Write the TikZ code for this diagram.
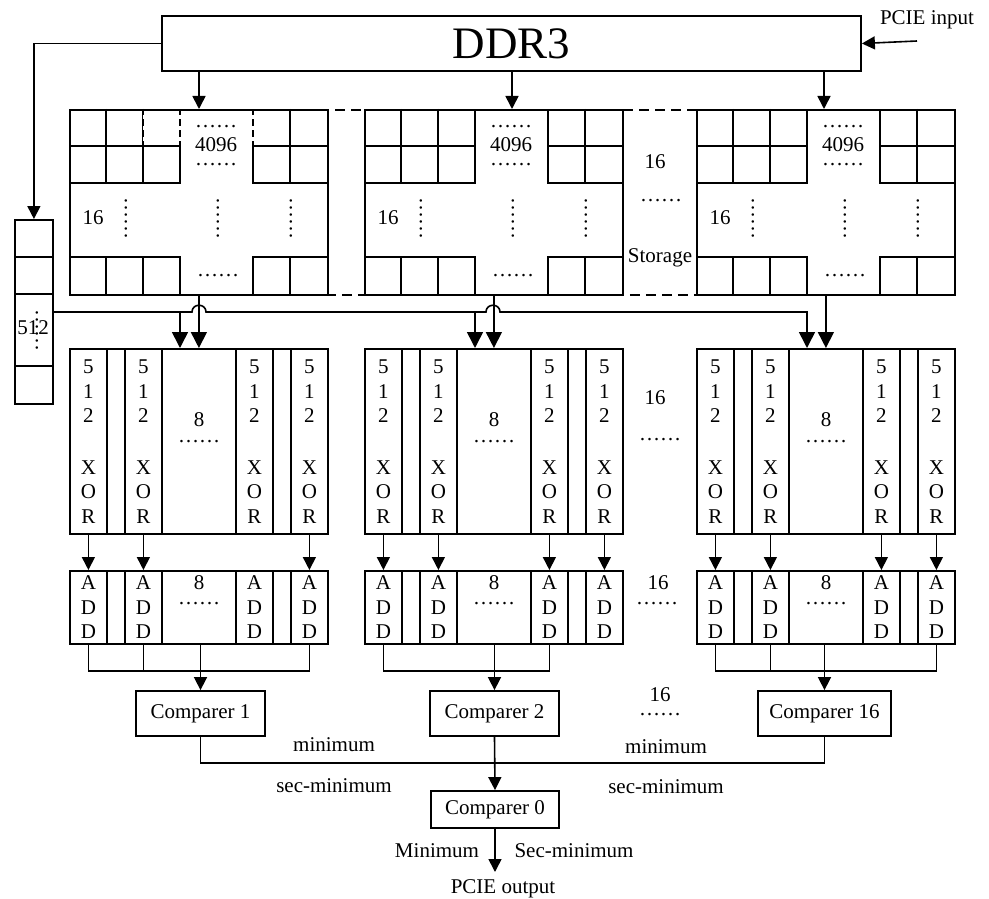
\documentclass[tikz,border=0pt]{standalone}
\usepackage{fontspec}
\setmainfont{Liberation Serif}
\usetikzlibrary{arrows.meta}
\begin{document}
\begin{tikzpicture}[x=1pt,y=-1pt,
  every node/.style={font=\fontsize{21}{24.5}\selectfont, inner sep=0pt},
  box/.style={draw, line width=1.8pt, inner sep=0pt},
  cl/.style={line width=1.8pt},
  ln/.style={line width=1.6pt},
  arr/.style={ln, -{Triangle[width=13pt,length=13pt]}},
  bigarr/.style={ln, -{Triangle[width=16pt,length=16pt]}},
  vdots/.style={rotate=90},
]
\useasboundingbox (0,0) rectangle (989,899);

% DDR3 and input
\node[box, minimum width=699pt, minimum height=55pt, font=\fontsize{45}{50}\selectfont] (ddr) at (511.5,43.5) {DDR3};
\node (pin) at (927,20) {PCIE input};
\coordinate (pinS) at (917,41);
\draw[arr] (pinS) -- (ddr.east);

% left column
\node[box, minimum width=38pt, minimum height=184pt, anchor=north west] (col) at (14,219) {};
\draw[cl] (14,257) -- (52,257);
\draw[cl] (14,294) -- (52,294);
\draw[cl] (14,366) -- (52,366);
\node (n512) at (33,328) {512};
\node[vdots] (v512) at (37,330) {……};
\draw[arr] (ddr.west) -| (col.north);

% storage frame
\node[draw, line width=1.6pt, dash pattern=on 10pt off 6pt, minimum width=885pt, minimum height=185pt, anchor=north west] (frame) at (69,109) {};

% storage blocks
\foreach \i/\L in {1/69,2/364,3/696}{
  \node[box, minimum width=258pt, minimum height=185pt, anchor=north west] (s\i) at (\L,109) {};
  \draw[cl] (\L,183) -- (\L+111,183) -- (\L+111,109);
  \draw[cl] (\L,146) -- (\L+111,146);
  \draw[cl] (\L+37,109) -- (\L+37,183);
  \draw[cl] (\L+74,109) -- (\L+74,183);
  \draw[cl] (\L+258,183) -- (\L+184,183) -- (\L+184,109);
  \draw[cl] (\L+184,146) -- (\L+258,146);
  \draw[cl] (\L+221,109) -- (\L+221,183);
  \draw[cl] (\L,257) -- (\L+111,257) -- (\L+111,294);
  \draw[cl] (\L+37,257) -- (\L+37,294);
  \draw[cl] (\L+74,257) -- (\L+74,294);
  \draw[cl] (\L+258,257) -- (\L+184,257) -- (\L+184,294);
  \draw[cl] (\L+221,257) -- (\L+221,294);
  \node (sdt\i) at (\L+147,127) {……};
  \node (sn\i) at (\L+147,145) {4096};
  \node (sdb\i) at (\L+147,165) {……};
  \node (s16\i) at (\L+24,218) {16};
  \node[vdots] (sv1\i) at (\L+57,218) {……};
  \node[vdots] (sv2\i) at (\L+149,218) {……};
  \node[vdots] (sv3\i) at (\L+222,218) {……};
  \node (sbd\i) at (\L+149,276) {……};
}
% broken (dashed-looking) lines in block 1 top row
\foreach \xx in {144,180,253}{
  \draw[white, line width=2.4pt, dash pattern=on 4pt off 7pt] (\xx,115) -- (\xx,143);
}

\node (st16) at (655,162) {16};
\node (stdots) at (661,201) {……};
\node (stlab) at (660,258) {Storage};

% DDR3 -> storage
\coordinate (d1) at (199,71);
\coordinate (d2) at (512,71);
\coordinate (d3) at (824,71);
\draw[arr] (d1) -- (d1 |- s1.north);
\draw[arr] (d2) -- (d2 |- s2.north);
\draw[arr] (d3) -- (d3 |- s3.north);

% XOR units
\foreach \i/\L in {1/69,2/364,3/696}{
  \node[box, minimum width=258pt, minimum height=185pt, anchor=north west] (xor\i) at (\L,348) {};
  \node[box, minimum width=37pt, minimum height=185pt, anchor=north west, align=center] (xa\i) at (\L,348) {5\\1\\2\\[27pt]X\\O\\R};
  \node[box, minimum width=37pt, minimum height=185pt, anchor=north west, align=center] (xb\i) at (\L+55,348) {5\\1\\2\\[27pt]X\\O\\R};
  \node[box, minimum width=37pt, minimum height=185pt, anchor=north west, align=center] (xc\i) at (\L+166,348) {5\\1\\2\\[27pt]X\\O\\R};
  \node[box, minimum width=37pt, minimum height=185pt, anchor=north west, align=center] (xd\i) at (\L+221,348) {5\\1\\2\\[27pt]X\\O\\R};
  \node (x8\i) at (\L+130,420) {8};
  \node (xdots\i) at (\L+130,442) {……};
}
\node (x16) at (655,398) {16};
\node (x16d) at (660,440) {……};

% storage -> XOR
\coordinate (h0) at (52,312);
\coordinate (b1) at (180,312);
\coordinate (b2) at (475,312);
\coordinate (b3) at (807,312);
\draw[bigarr] (h0) -- (192,312) .. controls (192,303) and (206,303) .. (206,312)
  -- (486,312) .. controls (486,303) and (500,303) .. (500,312) -- (b3) -- (b3 |- xor3.north);
\draw[bigarr] (b1) -- (b1 |- xor1.north);
\draw[bigarr] (b2) -- (b2 |- xor2.north);
\draw[bigarr] (s1.south) -- (s1.south |- xor1.north);
\draw[bigarr] (s2.south) -- (s2.south |- xor2.north);
\draw[bigarr] (s3.south) -- (s3.south |- xor3.north);

% ADD units
\foreach \i/\L in {1/69,2/364,3/696}{
  \node[box, minimum width=258pt, minimum height=73pt, anchor=north west] (add\i) at (\L,570) {};
  \node[box, minimum width=37pt, minimum height=73pt, anchor=north west, align=center] (pa\i) at (\L,570) {A\\D\\D};
  \node[box, minimum width=37pt, minimum height=73pt, anchor=north west, align=center] (pb\i) at (\L+55,570) {A\\D\\D};
  \node[box, minimum width=37pt, minimum height=73pt, anchor=north west, align=center] (pc\i) at (\L+166,570) {A\\D\\D};
  \node[box, minimum width=37pt, minimum height=73pt, anchor=north west, align=center] (pd\i) at (\L+221,570) {A\\D\\D};
  \node (p8\i) at (\L+130,583) {8};
  \node (pdots\i) at (\L+130,604) {……};
}
\node (p16) at (658,583) {16};
\node (p16d) at (657,604) {……};

% XOR -> ADD
\draw[arr] (xa1.south) -- (pa1.north);
\draw[arr] (xb1.south) -- (pb1.north);
\draw[arr] (xd1.south) -- (pd1.north);
\foreach \i in {2,3}{
  \draw[arr] (xa\i.south) -- (pa\i.north);
  \draw[arr] (xb\i.south) -- (pb\i.north);
  \draw[arr] (xc\i.south) -- (pc\i.north);
  \draw[arr] (xd\i.south) -- (pd\i.north);
}

% comparers
\node[box, minimum width=129pt, minimum height=45pt] (c1) at (200.5,713.5) {Comparer 1};
\node[box, minimum width=129pt, minimum height=45pt] (c2) at (494.5,713.5) {Comparer 2};
\node[box, minimum width=133pt, minimum height=45pt] (c16) at (824.5,713.5) {Comparer 16};
\node[box, minimum width=128pt, minimum height=37pt] (c0) at (495,809.5) {Comparer 0};
\node (c16n) at (660,695) {16};
\node (c16dots) at (660,715) {……};

% ADD -> comparers
\coordinate (j) at (0,671);
\draw[ln] (pa1.south) -- (pa1.south |- j) -- (pd1.south |- j) -- (pd1.south);
\draw[ln] (pb1.south) -- (pb1.south |- j);
\draw[ln] (pa2.south) -- (pa2.south |- j) -- (pc2.south |- j) -- (pc2.south);
\draw[ln] (pa3.south) -- (pa3.south |- j) -- (pd3.south |- j) -- (pd3.south);
\draw[ln] (pb3.south) -- (pb3.south |- j);
\draw[arr] (c1.north |- add1.south) -- (c1.north);
\draw[arr] (c2.north |- add2.south) -- (c2.north);
\draw[arr] (c16.north |- add3.south) -- (c16.north);

% comparers -> comparer 0
\coordinate (m) at (0,763);
\draw[ln] (c1.south) |- (c2.south |- m) -| (c16.south);
\draw[arr] (c2.south) -- (c0.north);
\coordinate (out) at (495,872);
\draw[arr] (c0.south) -- (out);

% labels
\node[anchor=base] (lm1) at (334,751) {minimum};
\node[anchor=base] (lm2) at (666,753) {minimum};
\node[anchor=base] (ls1) at (334,792) {sec-minimum};
\node[anchor=base] (ls2) at (666,793) {sec-minimum};
\node[anchor=base] (lM) at (437,857) {Minimum};
\node[anchor=base] (lS) at (574,857) {Sec-minimum};
\node[anchor=base] (lout) at (503,893) {PCIE output};
\end{tikzpicture}
\end{document}
